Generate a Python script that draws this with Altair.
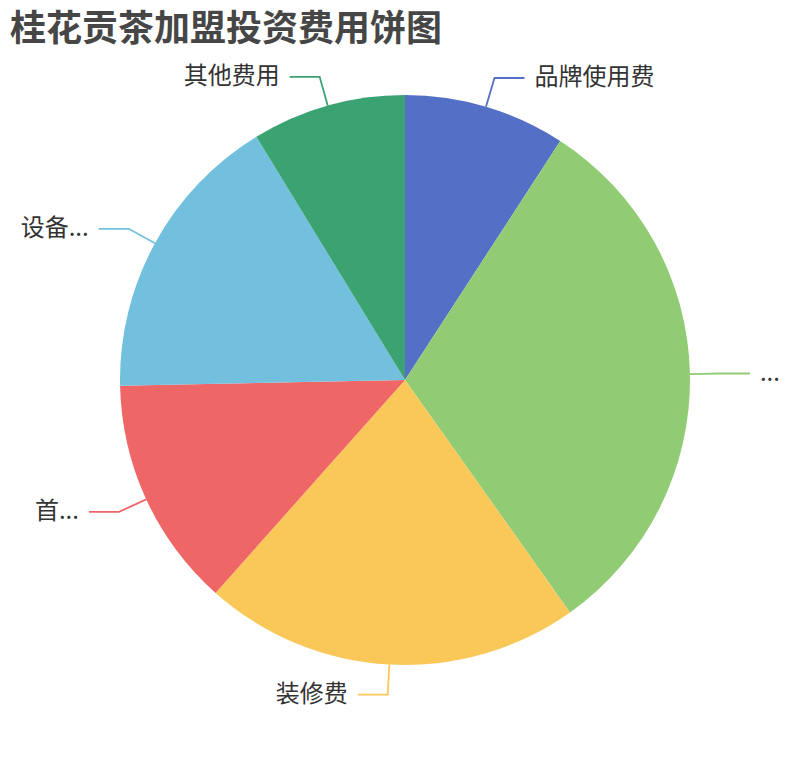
import math
import altair as alt
import pandas as pd

# ---- data ----
names = ["品牌使用费", "加盟费", "装修费", "首批进货费", "设备费用", "其他费用"]
labels = ["品牌使用费", "...", "装修费", "首...", "设备...", "其他费用"]
values = [2.1, 7.1, 4.9, 3.0, 3.8, 2.0]
colors = ["#5470c6", "#91cc75", "#fac858", "#ee6666", "#73c0de", "#3ba272"]

# ---- layout ----
W, H = 794, 696
CX, CY = 397, 324
R = 285
LEN1, LEN2, GAP = 30, 30, 10

total = sum(values)
slices = pd.DataFrame({"idx": range(len(names)), "name": names, "label": labels, "value": values})

line_rows, text_rows = [], []
cum = 0.0
for i, (n, lab, v) in enumerate(zip(names, labels, values)):
    mid = (cum + v / 2) / total * 2 * math.pi
    cum += v
    sx, sy = math.sin(mid), -math.cos(mid)
    ex, ey = CX + R * sx, CY + R * sy
    bx, by = CX + (R + LEN1) * sx, CY + (R + LEN1) * sy
    side = 1 if sx >= 0 else -1
    fx = bx + side * LEN2
    for o, (px, py) in enumerate([(ex, ey), (bx, by), (fx, by)]):
        line_rows.append({"name": n, "o": o, "x": px, "y": py})
    text_rows.append({"name": n, "label": lab, "x": fx + side * GAP, "y": by,
                      "side": "right" if side > 0 else "left"})

lines = pd.DataFrame(line_rows)
texts = pd.DataFrame(text_rows)

xs = alt.Scale(domain=[0, W], range=[0, W], nice=False, zero=False)
ys = alt.Scale(domain=[0, H], range=[0, H], nice=False, zero=False)
cscale = alt.Scale(domain=names, range=colors)

arc = alt.Chart(slices).mark_arc(outerRadius=R).encode(
    theta=alt.Theta("value:Q", stack=True),
    order=alt.Order("idx:Q"),
    color=alt.Color("name:N", scale=cscale, legend=None),
    x=alt.value(CX),
    y=alt.value(CY),
)

leader = alt.Chart(lines).mark_line(strokeWidth=1.8).encode(
    x=alt.X("x:Q", scale=xs, axis=None),
    y=alt.Y("y:Q", scale=ys, axis=None),
    detail="name:N",
    order=alt.Order("o:Q"),
    color=alt.Color("name:N", scale=cscale, legend=None),
)

txt_common = dict(font="Noto Sans CJK SC", fontSize=24, color="#333333", baseline="middle")
txt_r = alt.Chart(texts).transform_filter(alt.datum.side == "right").mark_text(align="left", **txt_common).encode(
    x=alt.X("x:Q", scale=xs, axis=None), y=alt.Y("y:Q", scale=ys, axis=None), text="label:N")
txt_l = alt.Chart(texts).transform_filter(alt.datum.side == "left").mark_text(align="right", **txt_common).encode(
    x=alt.X("x:Q", scale=xs, axis=None), y=alt.Y("y:Q", scale=ys, axis=None), text="label:N")

chart = alt.layer(arc, leader, txt_r, txt_l).properties(
    width=W, height=H,
    title=alt.TitleParams("桂花贡茶加盟投资费用饼图", anchor="start", fontSize=36, fontWeight="bold",
                          color="#464646", font="Noto Sans CJK SC", offset=7, dx=2),
    autosize=alt.AutoSizeParams(type="none"),
    padding={"top": 48, "left": 0, "right": 0, "bottom": 0},
).configure_view(stroke=None)

chart.save("out.html", embed_options={"renderer": "svg", "actions": False})
